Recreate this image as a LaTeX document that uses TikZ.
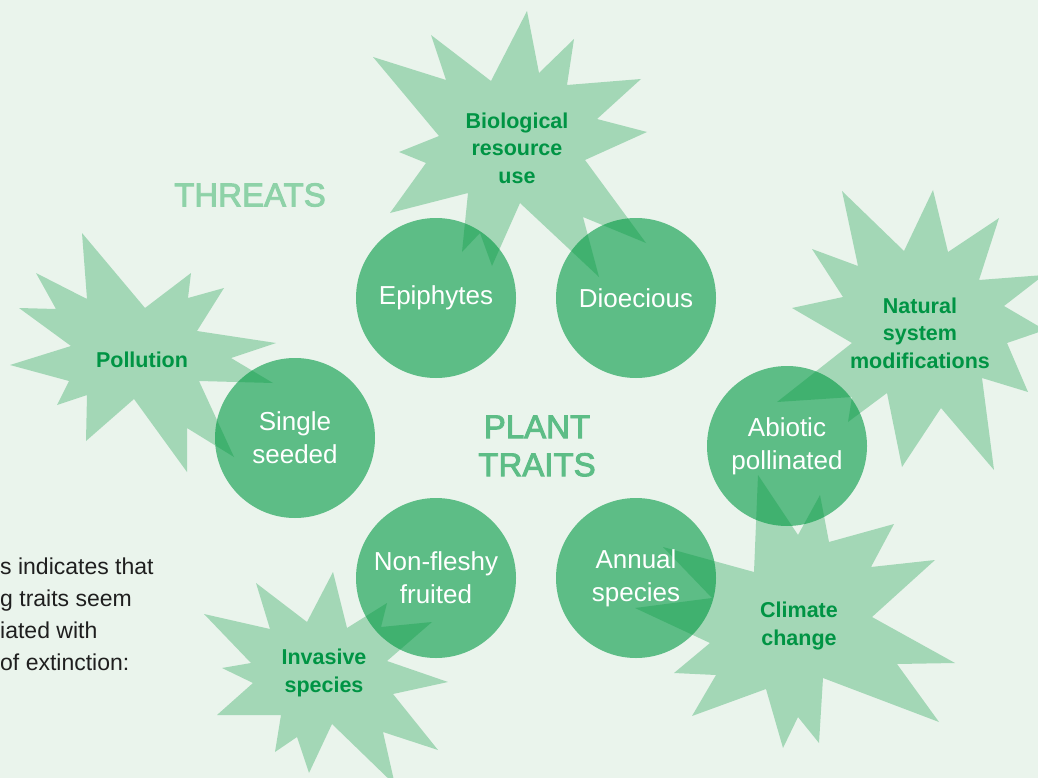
\documentclass[tikz,border=0pt]{standalone}
\usepackage{fontspec}
\setmainfont{Liberation Sans}
\newcommand\heavy[1]{\special{pdf:literal direct 2 Tr 0.9 w}#1\special{pdf:literal direct 0 Tr}}
\usetikzlibrary{positioning}
\definecolor{paper}{RGB}{234,244,236}
\definecolor{traitgreen}{RGB}{93,189,134}
\definecolor{threatgreen}{RGB}{0,150,60}
\definecolor{threattext}{RGB}{0,148,68}
\definecolor{headgreen}{RGB}{142,210,168}
\pgfdeclarelayer{back}
\pgfdeclarelayer{mid}
\pgfsetlayers{back,mid,main}

\begin{document}
\begin{tikzpicture}[x=1pt,y=-1pt,on grid,
	trait/.style={circle,minimum size=160pt,inner sep=0pt,align=center,text=white,font=\fontsize{26}{33}\selectfont},
	threat/.style={align=center,text=threattext,font=\bfseries\fontsize{21.5}{27.5}\selectfont},
	burst/.style={fill=threatgreen,fill opacity=0.3}]
		\useasboundingbox (0,0) rectangle (1038,778);
		\clip (0,0) rectangle (1038,778);
		% plant traits
		\node[trait] (0) at (436,298) {Epiphytes};
		\node[trait] (1) [right=200pt of 0] {Dioecious};
		\node[trait] (2) [below right=148pt and 151pt of 1] {Abiotic\\pollinated};
		\node[trait] (3) [below=280pt of 1] {Annual\\species};
		\node[trait] (4) [left=200pt of 3] {Non-fleshy\\fruited};
		\node[trait] (5) [below left=140pt and 141pt of 0] {Single\\seeded};
		\node[text=traitgreen,align=center,font=\fontsize{33}{38}\selectfont] (plant) at (537,446) {\heavy{PLANT}\\\heavy{TRAITS}};
		\node[text=headgreen,font=\fontsize{33}{38}\selectfont] (threats) at (250,195) {\heavy{THREATS}};
		% threats
		\node[threat] (6) at (517,148) {Biological\\resource\\use};
		\node[threat] (7) at (142,360) {Pollution};
		\node[threat] (8) at (920,333) {Natural\\system\\modifications};
		\node[threat] (9) at (799,626) {Climate\\change};
		\node[threat] (10) at (324,673) {Invasive\\species};
		\node[anchor=north west,inner sep=0pt,align=left,text=black!88,font=\fontsize{23}{32}\selectfont] (note) at (0,558)
			{s indicates that\\g traits seem\\iated with\\ of extinction:};
		\begin{pgfonlayer}{back}
			\fill[paper] (0,0) rectangle (1038,778);
			\foreach \t in {0,...,5}
				\fill[traitgreen] (\t) circle[radius=80pt];
		\end{pgfonlayer}
		\begin{pgfonlayer}{mid}
			\fill[burst] (527,11) -- (539,73) -- (574,39) -- (567,85) -- (641,79) -- (597,119) -- (647,132) -- (585,160) -- (646,243) -- (583,217) -- (599,277) -- (520,203) -- (492,266) -- (480,233) -- (462,252) -- (468,193) -- (390,213) -- (426,163) -- (399,152) -- (439,136) -- (373,57) -- (446,80) -- (431,35) -- (491,81) -- cycle;
			\fill[burst] (82,233) -- (145,308) -- (191,273) -- (188,298) -- (224,288) -- (197,331) -- (276,343) -- (231,358) -- (273,383) -- (199,381) -- (234,457) -- (187,428) -- (187,472) -- (134,399) -- (86,441) -- (87,395) -- (57,405) -- (69,381) -- (10,365) -- (71,346) -- (19,308) -- (56,309) -- (36,273) -- (87,299) -- cycle;
			\fill[burst] (933,190) -- (948,252) -- (999,218) -- (979,280) -- (1044,275) -- (1004,306) -- (1045,330) -- (1007,343) -- (1028,392) -- (982,378) -- (994,470) -- (941,408) -- (902,467) -- (887,393) -- (848,422) -- (852,397) -- (777,402) -- (852,343) -- (792,308) -- (843,297) -- (812,249) -- (858,266) -- (842,191) -- (904,251) -- cycle;
			\fill[burst] (820,495) -- (829,542) -- (894,524) -- (871,567) -- (935,560) -- (872,617) -- (955,663) -- (897,664) -- (939,722) -- (823,678) -- (819,743) -- (798,717) -- (783,748) -- (766,689) -- (692,716) -- (716,675) -- (674,673) -- (710,643) -- (635,608) -- (712,598) -- (663,547) -- (754,572) -- (758,475) -- (798,535) -- cycle;
			\fill[burst] (333,572) -- (347,628) -- (387,603) -- (381,627) -- (432,622) -- (387,661) -- (448,682) -- (393,694) -- (438,750) -- (383,732) -- (395,785) -- (332,724) -- (309,773) -- (297,737) -- (275,752) -- (281,715) -- (217,715) -- (253,683) -- (222,668) -- (251,663) -- (204,614) -- (270,629) -- (256,583) -- (307,622) -- cycle;
		\end{pgfonlayer}
	\end{tikzpicture}
\end{document}
